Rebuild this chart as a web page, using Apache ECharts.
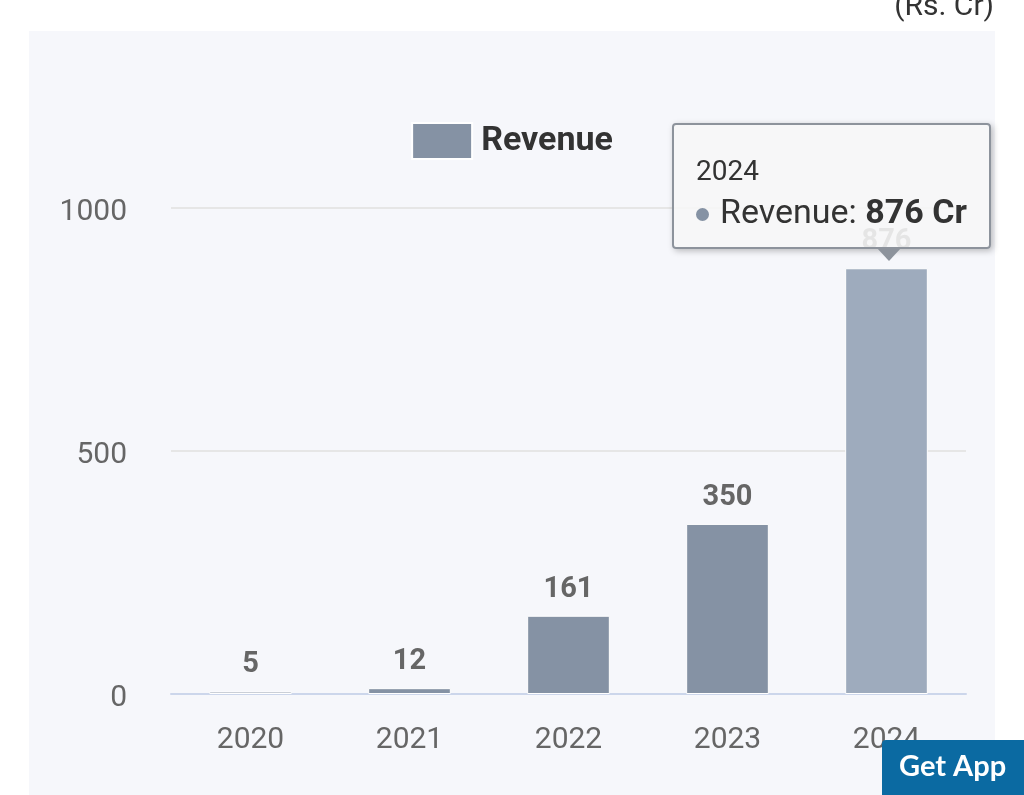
<!DOCTYPE html>
<html>
<head>
<meta charset="utf-8">
<script src="https://cdn.jsdelivr.net/npm/echarts@6/dist/echarts.min.js"></script>
<style>
html,body{margin:0;padding:0;background:#fff;}
#c{width:1024px;height:795px;}
</style>
</head>
<body>
<div id="c"></div>
<script>
var categories = ['2020', '2021', '2022', '2023', '2024'];
var revenue = [5, 12, 161, 350, 876];
var yTicks = [0, 500, 1000];
var seriesName = 'Revenue';
var unitLabel = '(Rs. Cr)';
var highlightIndex = 4;

var chart = echarts.init(document.getElementById('c'), null, {renderer: 'canvas'});
var font = 'Roboto, "Noto Sans", sans-serif';

var data = revenue.map(function (v, i) {
  return i === highlightIndex ? {value: v, itemStyle: {color: '#9eabbd'}} : v;
});

var option = {
  animation: false,
  backgroundColor: '#ffffff',
  graphic: [
    {type: 'rect', z: -10, shape: {x: 29, y: 31, width: 966, height: 770}, style: {fill: '#f6f7fb'}},
    {type: 'text', right: 30, top: -8, style: {text: unitLabel, font: '30px ' + font, fill: '#333'}},
    {type: 'rect', z: 100, shape: {x: 882, y: 740, width: 142, height: 56, r: [4, 0, 0, 0]}, style: {fill: '#0b6aa2'}},
    {type: 'text', z: 101, left: 899, top: 752, style: {text: 'Get App', font: 'bold 29px Lato, ' + font, fill: '#ffffff'}}
  ],
  legend: {
    top: 117,
    left: 'center',
    itemWidth: 60,
    itemHeight: 36,
    itemGap: 10,
    icon: 'rect',
    textStyle: {fontSize: 34, fontWeight: 'bold', color: '#333', fontFamily: font, padding: [0, 0, 0, 4]},
    data: [seriesName]
  },
  tooltip: {
    trigger: 'item',
    triggerOn: 'none',
    alwaysShowContent: true,
    backgroundColor: 'rgba(247,247,247,0.88)',
    borderColor: '#8d939c',
    borderWidth: 2,
    padding: [28, 22, 14, 22],
    extraCssText: 'border-radius:4px;box-shadow:2px 2px 6px rgba(0,0,0,0.25);overflow:visible;',
    textStyle: {fontFamily: font, color: '#333'},
    position: function (point, params, dom, rect, size) {
      var w = size.contentSize[0], h = size.contentSize[1];
      var px = chart.convertToPixel({seriesIndex: 0}, [params.dataIndex, params.value]);
      var left = Math.min(px[0] - w / 2, 991 - w);
      var arrow = dom.querySelector('.arr');
      if (arrow) arrow.style.left = (px[0] - left - 13) + 'px';
      return [left, px[1] - h - 19];
    },
    formatter: function (p) {
      return '<div style="font-size:28px;line-height:36px;">' + p.name + '</div>' +
        '<div style="font-size:34px;line-height:44px;white-space:nowrap;">' +
        '<span style="display:inline-block;width:13px;height:13px;border-radius:7px;background:#8592a4;margin-right:11px;vertical-align:middle;"></span>' +
        p.seriesName + ': <b>' + p.value + ' Cr</b></div>' +
        '<div class="arr" style="position:absolute;bottom:-14px;left:200px;width:0;height:0;border-left:13px solid transparent;border-right:13px solid transparent;border-top:14px solid #8d939c;"></div>';
    }
  },
  grid: {left: 171, right: 58, top: 208, bottom: 101, containLabel: false},
  xAxis: {
    type: 'category',
    data: categories,
    axisLine: {lineStyle: {color: '#ccd6eb', width: 2}},
    axisTick: {show: false},
    axisLabel: {fontSize: 30, color: '#666', fontFamily: font, margin: 31}
  },
  yAxis: {
    type: 'value',
    min: 0,
    max: 1000,
    interval: 500,
    axisLabel: {fontSize: 30, color: '#666', fontFamily: font, margin: 44, verticalAlign: 'top', lineHeight: 8,
      formatter: function (v) { return yTicks.indexOf(v) >= 0 ? String(v) : ''; }},
    splitLine: {lineStyle: {color: '#e6e6e6', width: 2}},
    axisLine: {show: false},
    axisTick: {show: false}
  },
  series: [{
    name: seriesName,
    type: 'bar',
    data: data,
    barWidth: '52%',
    itemStyle: {color: '#8592a4', borderColor: '#ffffff', borderWidth: 1},
    label: {show: true, position: 'top', distance: 12, fontSize: 29, fontWeight: 'bold', color: '#666', fontFamily: font}
  }]
};
chart.setOption(option);
setTimeout(function () {
  chart.dispatchAction({type: 'showTip', seriesIndex: 0, dataIndex: highlightIndex});
}, 50);
</script>
</body>
</html>
